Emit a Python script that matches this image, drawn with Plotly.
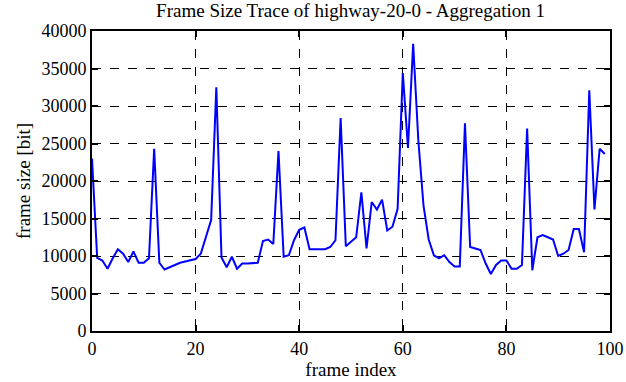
import plotly.graph_objects as go

frame_index = list(range(100))
frame_size = [
    23000, 9750, 9400, 8300, 9700, 10900, 10300, 9200, 10600, 9100,
    9100, 9700, 24300, 9100, 8200, 8550, 8800, 9100, 9300, 9500,
    9600, 10300, 12500, 14800, 32500, 9800, 8500, 9900, 8300, 9000,
    9000, 9000, 9100, 12000, 12200, 11600, 24000, 9900, 10100, 12100,
    13500, 13800, 10900, 10900, 10900, 10900, 11200, 12100, 28400, 11300,
    11900, 12500, 18500, 11000, 17200, 16200, 17500, 13400, 13900, 16300,
    34400, 24400, 38300, 25400, 16700, 12200, 10100, 9700, 10100, 9200,
    8600, 8600, 27700, 11200, 11000, 10800, 9000, 7600, 8800, 9400,
    9400, 8300, 8300, 8800, 27000, 8100, 12500, 12800, 12500, 12200,
    10000, 10300, 10800, 13600, 13600, 10500, 32100, 16200, 24300, 23600,
]
x_ticks = [0, 20, 40, 60, 80, 100]
y_ticks = [0, 5000, 10000, 15000, 20000, 25000, 30000, 35000, 40000]

font_family = "Liberation Serif, serif"

fig = go.Figure()
fig.add_trace(go.Scatter(
    x=frame_index, y=frame_size, mode="lines",
    line=dict(color="#0000ff", width=2),
    showlegend=False,
))

axis_common = dict(
    showline=True, linecolor="black", linewidth=2, mirror="ticks",
    ticks="inside", ticklen=6, tickwidth=1.5, tickcolor="black",
    showgrid=True, gridcolor="black", griddash="dash", gridwidth=1,
    zeroline=False, automargin=False, tickformat="d",
    tickfont=dict(family=font_family, size=18, color="black"),
)

fig.update_xaxes(
    range=[0, 100], tickvals=x_ticks,
    title=dict(text="frame index", font=dict(family=font_family, size=19, color="black"), standoff=0),
    **axis_common,
)
fig.update_yaxes(
    range=[0, 40000], tickvals=y_ticks,
    title=dict(text="frame size [bit]", font=dict(family=font_family, size=19, color="black"), standoff=6),
    **axis_common,
)

fig.update_layout(
    width=626, height=382,
    margin=dict(l=92, r=16, t=31, b=51),
    paper_bgcolor="white", plot_bgcolor="white",
    font=dict(family=font_family, size=18, color="black"),
    title=dict(text="Frame Size Trace of highway-20-0 - Aggregation 1",
               font=dict(family=font_family, size=19, color="black"),
               x=0.56, xanchor="center", y=0.99, yanchor="top"),
)

fig.write_html(
    "out.html",
    config={"displayModeBar": False},
    post_script="document.body.style.margin='0';document.body.style.overflow='hidden';",
)
